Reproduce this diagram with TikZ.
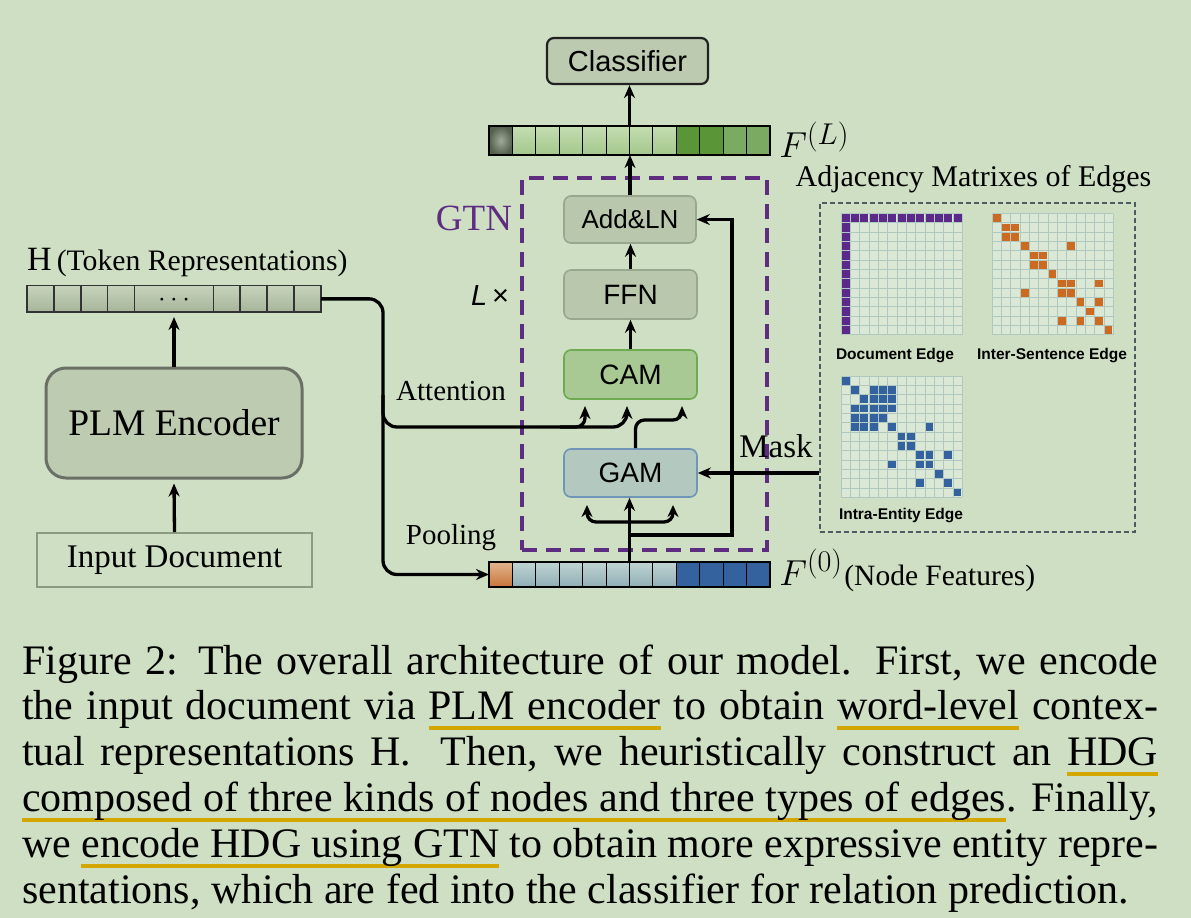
\documentclass[tikz,border=0pt]{standalone}
\usepackage{fontspec}
\setmainfont{Liberation Serif}
\setsansfont{Liberation Sans}
\usetikzlibrary{arrows.meta,calc}
\definecolor{bgc}{HTML}{CFDFC4}
\definecolor{clsfill}{HTML}{BCCAB0}
\definecolor{clsdraw}{HTML}{222222}
\definecolor{boxfill}{HTML}{B9C8AD}
\definecolor{boxdraw}{HTML}{98A88E}
\definecolor{camfill}{HTML}{A8C994}
\definecolor{camdraw}{HTML}{6DAA50}
\definecolor{gamfill}{HTML}{B3C9C0}
\definecolor{gamdraw}{HTML}{6F95B8}
\definecolor{plmfill}{HTML}{BDCBB1}
\definecolor{plmdraw}{HTML}{6B7066}
\definecolor{indraw}{HTML}{8C9A84}
\definecolor{gtnc}{HTML}{5E2D82}
\definecolor{adjc}{HTML}{4D5C63}
\definecolor{purpcell}{HTML}{5B2A88}
\definecolor{orcell}{HTML}{CC6A22}
\definecolor{blcell}{HTML}{33629F}
\definecolor{matfill}{HTML}{DCE8D6}
\definecolor{matgrid}{HTML}{AFC8C0}
\definecolor{ulc}{HTML}{D4A600}
\definecolor{lgtop}{HTML}{C4DDB1}
\definecolor{lgbot}{HTML}{A3C88C}
\definecolor{dgc}{HTML}{5A9538}
\definecolor{mgc}{HTML}{7BAB62}
\definecolor{gyin}{HTML}{A0AA98}
\definecolor{gyout}{HTML}{56604E}
\definecolor{ortop}{HTML}{E2B68E}
\definecolor{orbot}{HTML}{C9743A}
\definecolor{bgtop}{HTML}{C0D3D3}
\definecolor{bgbot}{HTML}{8FAFB6}
\definecolor{htop}{HTML}{C6D3BB}
\definecolor{hbot}{HTML}{A6B59A}
\newcommand\myul[1]{\sbox0{#1}\rlap{\textcolor{ulc}{\rule[-10.5pt]{\wd0}{4pt}}}\usebox0}
\newcommand\ulsp{{\color{ulc}\leaders\vrule height -6.5pt depth 10.5pt\hskip\fontdimen2\font plus\fontdimen3\font minus\fontdimen4\font}}
\begin{document}
\begin{tikzpicture}[x=1pt,y=-1pt,
  arr/.style={line width=3.3pt,-{Stealth[length=13pt,width=11pt]}},
  darr/.style={line width=3.3pt,{Stealth[length=12pt,width=11pt]}-{Stealth[length=12pt,width=11pt]}},
  blk/.style={rounded corners=7pt, line width=1.6pt, minimum width=133pt, minimum height=48pt,
    font=\sffamily\fontsize{28}{30}\selectfont, inner sep=0pt},
  barbox/.style={inner sep=0pt, outer sep=0pt},
  cellgray/.style={draw=black, line width=1.1pt, inner color=gyin, outer color=gyout},
  celllg/.style={draw=black, line width=1.1pt, top color=lgtop, bottom color=lgbot},
  celldg/.style={draw=black, line width=1.1pt, fill=dgc},
  cellmg/.style={draw=black, line width=1.1pt, fill=mgc},
  cellor/.style={draw=black, line width=1.1pt, top color=ortop, bottom color=orbot},
  cellbg/.style={draw=black, line width=1.1pt, top color=bgtop, bottom color=bgbot},
  celldb/.style={draw=black, line width=1.1pt, fill=blcell},
  cellh/.style={draw=black!80, line width=1.1pt, top color=htop, bottom color=hbot},
  serif/.style={font=\fontsize{29}{32}\selectfont},
  matlab/.style={font=\sffamily\bfseries\fontsize{15.5}{17}\selectfont},
  captxt/.style={anchor=base west, inner sep=0pt, font=\fontsize{42}{46}\selectfont}
]
\useasboundingbox[fill=bgc] (0,0) rectangle (1191,918);

% ---------- GTN dashed frame ----------
\node[draw=gtnc, line width=3.6pt, dash pattern=on 15pt off 9pt, minimum width=245pt, minimum height=372pt, inner sep=0pt] (gtn) at (644.5,364) {};
\node[text=gtnc, font=\fontsize{37}{39}\selectfont] (gtnlab) at (474,218) {GTN};
\node[font=\sffamily\fontsize{29}{30}\selectfont] (lx) at (490,296) {\textit{L}\,×};

% ---------- Classifier and F(L) ----------
\node[blk, draw=clsdraw, fill=clsfill, minimum width=161pt, minimum height=46pt, line width=2.2pt, font=\sffamily\fontsize{29}{30}\selectfont] (cls) at (627.5,61) {Classifier};
\node[barbox, minimum width=281pt, minimum height=29pt] (fL) at (629.5,140.5) {};
\foreach \i/\st in {0/cellgray,1/celllg,2/celllg,3/celllg,4/celllg,5/celllg,6/celllg,7/celllg,8/celldg,9/celldg,10/cellmg,11/cellmg}
  \draw[\st] (489+\i*23.417,126) rectangle ++(23.417,29);
\node[anchor=west, inner sep=0pt, font=\fontsize{24.88}{26}\selectfont, scale=1.45] (fLlab) at (779,140) {$F^{(L)}$};

% ---------- GTN blocks ----------
\node[blk, draw=boxdraw, fill=boxfill, font=\sffamily\fontsize{26}{28}\selectfont, minimum width=132pt, minimum height=47pt] (addln) at (630,219.5) {Add\&LN};
\node[blk, draw=boxdraw, fill=boxfill, minimum height=49pt] (ffn) at (630.5,294.5) {FFN};
\node[blk, draw=camdraw, fill=camfill, minimum height=49pt] (cam) at (630.5,374.5) {CAM};
\node[blk, draw=gamdraw, fill=gamfill] (gam) at (630.5,473) {GAM};

% ---------- F(0) ----------
\node[barbox, minimum width=281pt, minimum height=25pt] (f0) at (629.5,574.5) {};
\foreach \i/\st in {0/cellor,1/cellbg,2/cellbg,3/cellbg,4/cellbg,5/cellbg,6/cellbg,7/cellbg,8/celldb,9/celldb,10/celldb,11/celldb}
  \draw[\st] (489+\i*23.417,562) rectangle ++(23.417,25);
\node[anchor=base west, inner sep=0pt, font=\fontsize{24.88}{26}\selectfont, scale=1.45] (f0sym) at (779,585) {$F^{(0)}$};
\node[anchor=base west, inner sep=0pt, font=\fontsize{29.5}{32}\selectfont] (f0lab) at ($(f0sym.base east)+(1,0)$) {(Node Features)};

% ---------- left column ----------
\node[draw=indraw, line width=1.8pt, minimum width=275pt, minimum height=54pt, inner sep=0pt, font=\fontsize{33}{35}\selectfont] (indoc) at (174.5,560) {Input Document};
\node[draw=plmdraw, fill=plmfill, line width=3pt, rounded corners=20pt, minimum width=256pt, minimum height=110pt, inner sep=0pt, font=\fontsize{37.5}{40}\selectfont] (plm) at (174,423) {PLM Encoder};
\node[barbox, minimum width=294pt, minimum height=26.3pt] (hbar) at (174,298.85) {};
\foreach \a/\b in {27/54,54/81,81/107.7,107.7/134.3,134.3/213.3,213.3/240,240/267,267/294,294/321}
  \draw[cellh] (\a,285.7) rectangle (\b,312);
\node[font=\fontsize{24.88}{26}\selectfont, scale=1.1] (dots) at (174,300) {$\cdots$};
\node[anchor=base west, inner sep=0pt] (hlab) at (27,270) {{\fontsize{34}{35}\selectfont H}\kern5pt{\fontsize{29.7}{31}\selectfont(Token Representations)}};

\draw[arr] (indoc.north) -- ($(plm.south)+(0,4)$);
\draw[arr] (plm.north) -- ($(hbar.south)+(0,5)$);

% ---------- labels ----------
\node[serif] (attn) at (451,391) {Attention};
\node[serif] (pool) at (451,538) {Pooling};
\node[font=\fontsize{33}{35}\selectfont] (mask) at (776,446) {Mask};

% ---------- adjacency matrices ----------
\node[draw=adjc, line width=1.6pt, dash pattern=on 5pt off 3pt, minimum width=315pt, minimum height=329pt, inner sep=0pt] (adj) at (977.5,367.5) {};
\node[font=\fontsize{30}{32}\selectfont] (adjt) at (973.5,179) {Adjacency Matrixes of Edges};

\begin{scope}[shift={(841,213.5)}]
  \fill[matfill] (0,0) rectangle (121.3,121.3);
  \foreach \r in {0,...,12} \fill[purpcell] (0.6,\r*9.33+0.6) rectangle ++(8.1,8.1);
  \foreach \c in {1,...,12} \fill[purpcell] (\c*9.33+0.6,0.6) rectangle ++(8.1,8.1);
  \foreach \i in {0,...,13} {\draw[matgrid, line width=0.8pt] (\i*9.33,0) -- (\i*9.33,121.3); \draw[matgrid, line width=0.8pt] (0,\i*9.33) -- (121.3,\i*9.33);}
\end{scope}
\begin{scope}[shift={(992,213.5)}]
  \fill[matfill] (0,0) rectangle (121.3,121.3);
  \foreach \i in {0,...,13} {\draw[matgrid, line width=0.8pt] (\i*9.33,0) -- (\i*9.33,121.3); \draw[matgrid, line width=0.8pt] (0,\i*9.33) -- (121.3,\i*9.33);}
  \foreach \r/\c in {0/0,1/1,1/2,2/1,2/2,3/3,3/8,4/4,4/5,5/4,5/5,6/6,7/7,7/8,7/11,8/7,8/8,8/3,9/9,9/11,10/10,11/7,11/9,11/11,12/12}
    \fill[orcell] (\c*9.33+0.8,\r*9.33+0.8) rectangle ++(7.7,7.7);
\end{scope}
\begin{scope}[shift={(841,376)}]
  \fill[matfill] (0,0) rectangle (121.3,121.3);
  \foreach \i in {0,...,13} {\draw[matgrid, line width=0.8pt] (\i*9.33,0) -- (\i*9.33,121.3); \draw[matgrid, line width=0.8pt] (0,\i*9.33) -- (121.3,\i*9.33);}
  \foreach \r/\c in {0/0,1/1,1/3,1/4,1/5,2/2,2/3,2/4,2/5,3/1,3/2,3/3,3/4,3/5,4/1,4/2,4/3,4/4,5/1,5/2,5/3,5/5,5/9,6/6,6/7,7/6,7/7,8/8,8/9,8/11,9/5,9/8,9/9,10/10,11/8,11/11,12/12}
    \fill[blcell] (\c*9.33+0.8,\r*9.33+0.8) rectangle ++(7.7,7.7);
\end{scope}
\node[matlab] (docl) at (895,356) {Document Edge};
\node[matlab] (interl) at (1052,356) {Inter-Sentence Edge};
\node[matlab] (intral) at (901,516) {Intra-Entity Edge};

% ---------- connectors ----------
\draw[arr] (fL.north) -- (fL.north |- cls.south);
\draw[arr] (addln.north) -- (addln.north |- fL.south);
\draw[arr] (ffn.north) -- (ffn.north |- addln.south);
\draw[arr] (cam.north) -- (cam.north |- ffn.south);
\draw[arr] (f0.north) -- (f0.north |- gam.south);
\draw[darr, rounded corners=9pt] (587,505) -- (587,522) -- (673,522) -- (673,505);
\draw[arr] (f0.north |- 0,535) -- (732,535) -- (732,219.5) -- (addln.east);
\draw[arr] (adj.west |- gam.east) -- (gam.east);
\draw[arr, rounded corners=14pt] (hbar.east) -- (383,298.85) -- (383,574.5) -- (f0.west);
\draw[arr, rounded corners=14pt] (383,395) -- (383,427) -- (627,427) -- (627,406);
\draw[arr, rounded corners=9pt] (560,427) -- (585,427) -- (585,406);
\draw[arr, rounded corners=9pt] ($(gam.north)+(5,0)$) -- (635.5,420) -- (682,420) -- (682,406);

% ---------- caption ----------
\node[captxt] (c1) at (22,674) {\makebox[1136pt][s]{Figure 2: The overall architecture of our model. First, we encode}};
\node[captxt] (c2) at (22,719.8) {\makebox[1136pt][s]{the input document via \myul{PLM}\ulsp\myul{encoder} to obtain \myul{word-level} contex-}};
\node[captxt] (c3) at (22,765.6) {\makebox[1136pt][s]{tual representations H\@. Then, we heuristically construct an \myul{HDG}}};
\node[captxt] (c4) at (22,811.4) {\makebox[1136pt][s]{\myul{composed}\ulsp\myul{of}\ulsp\myul{three}\ulsp\myul{kinds}\ulsp\myul{of}\ulsp\myul{nodes}\ulsp\myul{and}\ulsp\myul{three}\ulsp\myul{types}\ulsp\myul{of}\ulsp\myul{edges}. Finally,}};
\node[captxt] (c5) at (22,857.2) {\makebox[1136pt][s]{we \myul{encode}\ulsp\myul{HDG}\ulsp\myul{using}\ulsp\myul{GTN} to obtain more expressive entity repre-}};
\node[captxt] (c6) at (22,903) {sentations, which are fed into the classifier for relation prediction.};
\end{tikzpicture}
\end{document}
